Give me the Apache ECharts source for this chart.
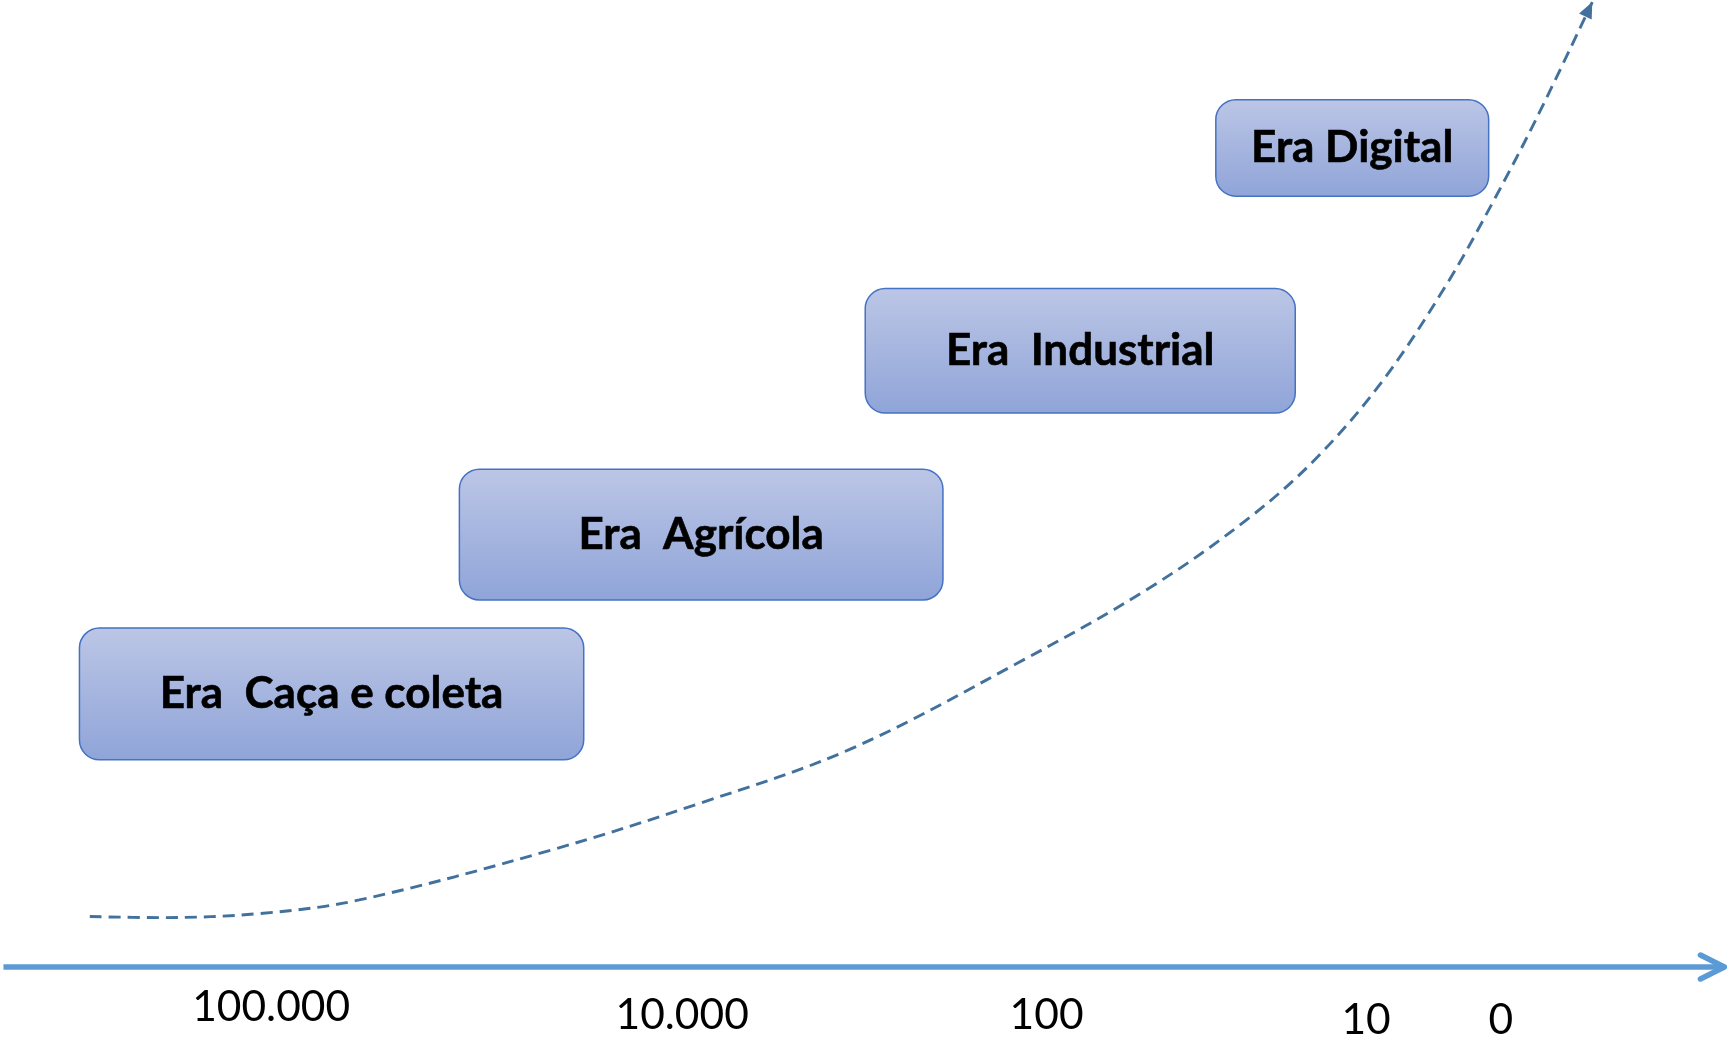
<!DOCTYPE html>
<html>
<head>
<meta charset="utf-8">
<script src="https://cdn.jsdelivr.net/npm/echarts@6/dist/echarts.min.js"></script>
<style>
html, body { margin: 0; padding: 0; background: #fff; }
#main { width: 1727px; height: 1038px; }
</style>
</head>
<body>
<div id="main"></div>
<script>
// eras (boxes) - chart units, x and y both 0..100
const eraNames = ['Era  Caça e coleta', 'Era  Agrícola', 'Era  Industrial', 'Era Digital'];
const eraStart = [4.6, 26.6, 50.1, 70.4];
const eraEnd = [33.8, 54.6, 75.0, 86.2];
const eraLow = [26.8, 42.2, 60.2, 81.1];
const eraHigh = [39.5, 54.8, 72.2, 90.4];

// timeline labels (anos atras)
const yearLabels = ['100.000', '10.000', '100', '10', '0'];
const yearX = [15.7, 39.5, 60.6, 79.1, 86.9];
const yearY = [3.0, 2.2, 2.2, 1.7, 1.7];

// timeline line
const axisLevel = 6.84;
const axisFrom = 0.2;
const axisTo = 99.85;

// growth curve
const curveX = [5.2, 9.3, 15.1, 20.8, 31.9, 40.5, 49.2, 58.9, 66.6, 72.4, 76.3, 80.1, 83.8, 86.5, 89.0, 92.2];
const curveY = [11.7, 11.6, 12.0, 13.3, 18.1, 22.6, 27.8, 36.1, 43.4, 50.2, 56.0, 63.4, 72.7, 80.7, 88.7, 99.8];

const chart = echarts.init(document.getElementById('main'));

const eraData = eraNames.map((n, i) => [eraStart[i], eraEnd[i], eraLow[i], eraHigh[i]]);
const yearData = yearLabels.map((t, i) => [yearX[i], yearY[i]]);
const curveData = curveX.map((x, i) => [x, curveY[i]]);
const n = curveData.length;

function renderEra(params, api) {
	const tl = api.coord([api.value(0), api.value(3)]);
	const br = api.coord([api.value(1), api.value(2)]);
	return {
		type: 'group',
		children: [
			{
				type: 'rect',
				shape: { x: tl[0], y: tl[1], width: br[0] - tl[0], height: br[1] - tl[1], r: 20 },
				style: {
					fill: new echarts.graphic.LinearGradient(0, 0, 0, 1, [
						{ offset: 0, color: '#BCC6E6' },
						{ offset: 1, color: '#8FA4D8' }
					]),
					stroke: '#4472C4',
					lineWidth: 1.5
				}
			},
			{
				type: 'text',
				style: {
					text: eraNames[params.dataIndex],
					x: (tl[0] + br[0]) / 2,
					y: (tl[1] + br[1]) / 2,
					align: 'center',
					verticalAlign: 'middle',
					fontFamily: 'Lato',
					fontWeight: 'bold',
					fontSize: 44,
					fill: '#000',
					stroke: '#000',
					lineWidth: 0.6
				}
			}
		]
	};
}

function renderYear(params, api) {
	const p = api.coord([api.value(0), api.value(1)]);
	return {
		type: 'text',
		style: {
			text: yearLabels[params.dataIndex],
			x: p[0],
			y: p[1],
			align: 'center',
			verticalAlign: 'middle',
			fontFamily: 'Lato',
			fontSize: 42.5,
			fill: '#000'
		}
	};
}

function renderTimeline(params, api) {
	const a = api.coord([api.value(0), api.value(2)]);
	const b = api.coord([api.value(1), api.value(2)]);
	const stroke = { stroke: '#5B9BD5', lineWidth: 5.5, lineCap: 'round', lineJoin: 'round', fill: null };
	return {
		type: 'group',
		children: [
			{ type: 'line', shape: { x1: a[0], y1: a[1], x2: b[0] - 2, y2: b[1] }, style: Object.assign({}, stroke, { lineCap: 'butt' }) },
			{ type: 'polyline', shape: { points: [[b[0] - 24, b[1] - 12], [b[0], b[1]], [b[0] - 24, b[1] + 12]] }, style: stroke }
		]
	};
}

function renderHead(params, api) {
	const p0 = api.coord([api.value(0), api.value(1)]);
	const p1 = api.coord([api.value(2), api.value(3)]);
	const ang = Math.atan2(p1[1] - p0[1], p1[0] - p0[0]);
	const len = 16, half = 7;
	const bx = p1[0] - len * Math.cos(ang), by = p1[1] - len * Math.sin(ang);
	const nx = -Math.sin(ang), ny = Math.cos(ang);
	return {
		type: 'polygon',
		shape: { points: [[p1[0], p1[1]], [bx + nx * half, by + ny * half], [bx - nx * half, by - ny * half]] },
		style: { fill: '#41719C' }
	};
}

chart.setOption({
	animation: false,
	backgroundColor: '#fff',
	grid: { left: 0, right: 0, top: 0, bottom: 0, outerBoundsMode: 'none' },
	xAxis: { type: 'value', min: 0, max: 100, show: false },
	yAxis: { type: 'value', min: 0, max: 100, show: false },
	series: [
		{
			type: 'line',
			data: curveData,
			smooth: 0.35,
			showSymbol: false,
			symbol: 'none',
			clip: false,
			lineStyle: { color: '#41719C', width: 2.9, type: [12, 7] },
			z: 1
		},
		{
			type: 'custom',
			renderItem: renderHead,
			clip: false,
			data: [[curveX[n - 2], curveY[n - 2], curveX[n - 1], curveY[n - 1]]],
			z: 2
		},
		{
			type: 'custom',
			renderItem: renderTimeline,
			clip: false,
			data: [[axisFrom, axisTo, axisLevel]],
			z: 2
		},
		{
			type: 'custom',
			renderItem: renderEra,
			clip: false,
			data: eraData,
			z: 3
		},
		{
			type: 'custom',
			renderItem: renderYear,
			clip: false,
			data: yearData,
			z: 3
		}
	]
});
</script>
</body>
</html>
